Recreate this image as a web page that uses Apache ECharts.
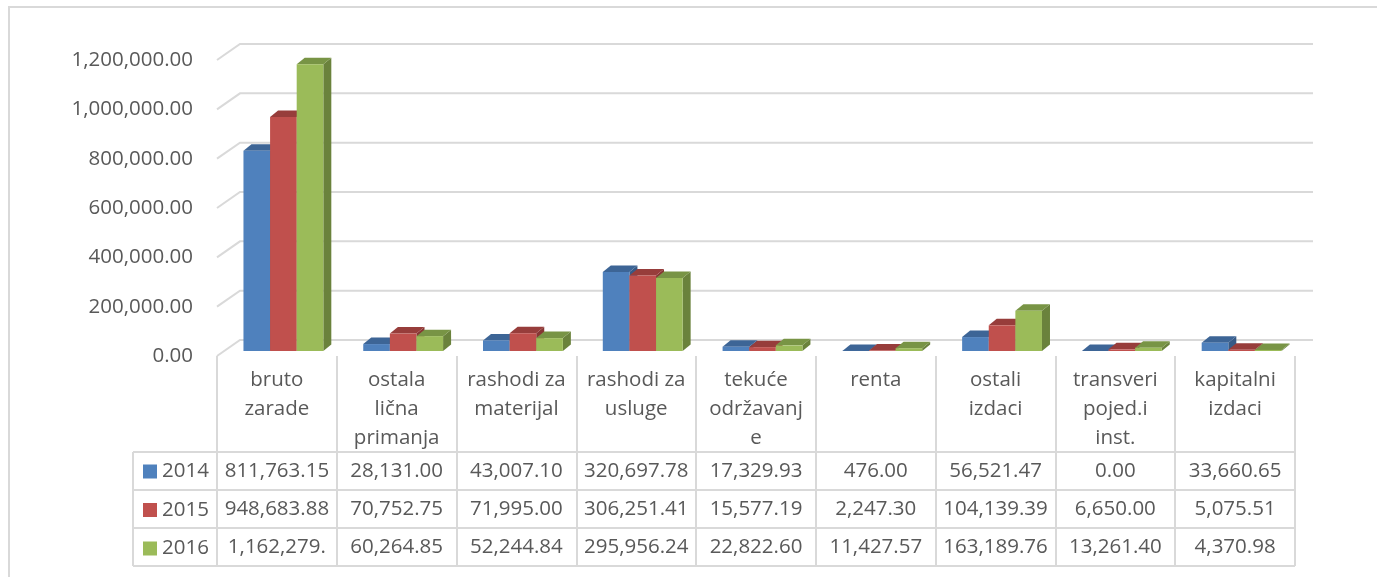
<!DOCTYPE html>
<html lang="sr" style="height: 100%">
<head>
    <meta charset="utf-8">
</head>
<body style="height: 100%; margin: 0; background: #fff">
<div id="container" style="width: 1377px; height: 577px"></div>
<script type="text/javascript" src="https://cdn.jsdelivr.net/npm/echarts@6.0.0/dist/echarts.min.js"></script>
<script type="text/javascript">

    const categoryLabels = [
        'bruto\nzarade', 'ostala\nlična\nprimanja', 'rashodi za\nmaterijal',
        'rashodi za\nusluge', 'tekuće\nodržavanj\ne', 'renta',
        'ostali\nizdaci', 'transveri\npojed.i\ninst.', 'kapitalni\nizdaci'
    ];
    const years = ['2014', '2015', '2016'];
    const values2014 = [811763.15, 28131.00, 43007.10, 320697.78, 17329.93, 476.00, 56521.47, 0.00, 33660.65];
    const values2015 = [948683.88, 70752.75, 71995.00, 306251.41, 15577.19, 2247.30, 104139.39, 6650.00, 5075.51];
    const values2016 = [1162279.00, 60264.85, 52244.84, 295956.24, 22822.60, 11427.57, 163189.76, 13261.40, 4370.98];
    const yTicks = [0, 200000, 400000, 600000, 800000, 1000000, 1200000];

    const font = '"Open Sans", "Noto Sans", sans-serif';
    const fontSize = 20.5;
    const textColor = '#595959';
    const lineColor = '#d9d9d9';

    const colors = ['#4f81bd', '#c0504d', '#9bbb59'];
    const topColors = ['#3d6596', '#973d3b', '#789445'];
    const sideColors = ['#365a86', '#873634', '#6a823c'];

    // offsets of the fake 3d look
    const barShift = [6.5, -5];
    const barDepth = [8, -6.5];
    const wallShiftLeft = [23, -16];
    const wallShiftRight = [18, -16];
    const rowOffsets = [115, 153, 191];

    function fmt(v) {
        return v.toLocaleString('en-US', {minimumFractionDigits: 2, maximumFractionDigits: 2});
    }

    function barRenderer(s) {
        return function (params, api) {
            const i = api.value(0);
            const v = api.value(1);
            const base = api.coord([i, 0]);
            const top = api.coord([i, v]);
            const catW = api.size([1, 0])[0];
            const bw = catW / 4.5;
            const x0 = base[0] + barShift[0] - 1.5 * bw + s * bw;
            const x1 = x0 + bw;
            const y0 = base[1] + barShift[1];
            const y1 = top[1] + barShift[1];
            const dx = barDepth[0], dy = barDepth[1];
            const cs = params.coordSys;
            return {
                type: 'group',
                children: [
                    {
                        type: 'polygon',
                        shape: {points: [[x1, y0], [x1 + dx, y0 + dy], [x1 + dx, y1 + dy], [x1, y1]]},
                        style: {fill: sideColors[s]}
                    },
                    {
                        type: 'polygon',
                        shape: {points: [[x0, y1], [x1, y1], [x1 + dx, y1 + dy], [x0 + dx, y1 + dy]]},
                        style: {fill: topColors[s]}
                    },
                    {
                        type: 'rect',
                        shape: {x: x0, y: y1, width: bw, height: y0 - y1},
                        style: {fill: colors[s]}
                    },
                    {
                        type: 'text',
                        style: {
                            text: fmt(v),
                            x: base[0],
                            y: cs.y + cs.height + rowOffsets[s],
                            fill: textColor,
                            font: fontSize + 'px ' + font,
                            align: 'center',
                            verticalAlign: 'middle',
                            width: 107,
                            overflow: 'truncate',
                            ellipsis: ''
                        }
                    }
                ]
            };
        };
    }

    function wallRenderer(params, api) {
        const cs = params.coordSys;
        const y = api.coord([0, api.value(1)])[1];
        return {
            type: 'polyline',
            shape: {
                points: [
                    [cs.x, y],
                    [cs.x + wallShiftLeft[0], y + wallShiftLeft[1]],
                    [cs.x + cs.width + wallShiftRight[0], y + wallShiftRight[1]]
                ]
            },
            style: {stroke: lineColor, lineWidth: 2, fill: null}
        };
    }

    const seriesValues = [values2014, values2015, values2016];

    var dom = document.getElementById('container');
    var myChart = echarts.init(dom, null, {renderer: 'canvas'});

    const option = {
        animation: false,
        backgroundColor: '#fff',
        textStyle: {fontFamily: font},
        grid: {
            left: 217,
            right: 82,
            top: 60,
            bottom: 221,
            containLabel: false,
            outerBoundsMode: 'none'
        },
        legend: {
            data: years,
            orient: 'vertical',
            left: 143,
            top: 461,
            padding: 0,
            itemWidth: 14,
            itemHeight: 14,
            itemGap: 17.5,
            icon: 'rect',
            selectedMode: false,
            textStyle: {fontFamily: font, fontSize: fontSize, color: textColor, padding: [0, 0, 0, 0]}
        },
        xAxis: {
            type: 'category',
            data: categoryLabels,
            axisLine: {show: false},
            axisTick: {show: true, length: 210, interval: 0, lineStyle: {color: lineColor, width: 2}},
            axisLabel: {
                interval: 0,
                margin: 10,
                color: textColor,
                fontFamily: font,
                fontSize: fontSize,
                lineHeight: 29,
                verticalAlign: 'top'
            },
            splitLine: {show: false}
        },
        yAxis: {
            type: 'value',
            min: 0,
            max: 1200000,
            interval: 200000,
            axisLine: {show: false},
            axisTick: {show: false},
            splitLine: {show: false},
            axisLabel: {
                margin: 24,
                color: textColor,
                fontFamily: font,
                fontSize: fontSize,
                formatter: v => fmt(v)
            }
        },
        graphic: [
            {type: 'rect', shape: {x: 9, y: 7, width: 1400, height: 620}, style: {fill: null, stroke: lineColor, lineWidth: 2}, z: -1},
            {type: 'line', shape: {x1: 133, y1: 452, x2: 1295, y2: 452}, style: {stroke: lineColor, lineWidth: 2}},
            {type: 'line', shape: {x1: 133, y1: 490, x2: 1295, y2: 490}, style: {stroke: lineColor, lineWidth: 2}},
            {type: 'line', shape: {x1: 133, y1: 528, x2: 1295, y2: 528}, style: {stroke: lineColor, lineWidth: 2}},
            {type: 'line', shape: {x1: 133, y1: 566, x2: 1295, y2: 566}, style: {stroke: lineColor, lineWidth: 2}},
            {type: 'line', shape: {x1: 133, y1: 452, x2: 133, y2: 566}, style: {stroke: lineColor, lineWidth: 2}}
        ],
        series: [
            {
                type: 'custom',
                name: 'walls',
                renderItem: wallRenderer,
                data: yTicks.map(v => [0, v]),
                clip: false,
                silent: true,
                z: 1
            }
        ].concat(years.map((y, s) => ({
            type: 'custom',
            name: y,
            renderItem: barRenderer(s),
            itemStyle: {color: colors[s]},
            data: seriesValues[s].map((v, i) => [i, v]),
            clip: false,
            z: 2 + s
        })))
    };

    myChart.setOption(option);
    window.addEventListener('resize', myChart.resize);

</script>
</body>
</html>
